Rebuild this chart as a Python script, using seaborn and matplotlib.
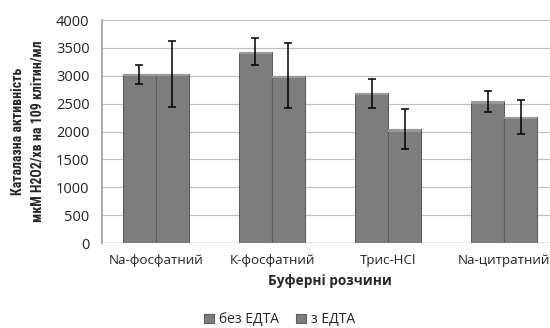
import matplotlib
matplotlib.use("Agg")
import matplotlib.pyplot as plt
import seaborn as sns
import pandas as pd

categories = ["Na-фосфатний", "К-фосфатний", "Трис-HCl", "Na-цитратний"]
series = ["без ЕДТА", "з ЕДТА"]
no_edta = [3030, 3430, 2690, 2540]
no_edta_err = [170, 240, 260, 195]
with_edta = [3030, 3000, 2040, 2260]
with_edta_err = [590, 580, 360, 310]

rows = []
for c, v, e in zip(categories, no_edta, no_edta_err):
    rows.append({"cat": c, "ser": series[0], "val": v, "err": e})
for c, v, e in zip(categories, with_edta, with_edta_err):
    rows.append({"cat": c, "ser": series[1], "val": v, "err": e})
df = pd.DataFrame(rows)

sns.set_theme(style="white")
plt.rcParams["font.family"] = ["Open Sans", "DejaVu Sans"]

fig = plt.figure(figsize=(5.5, 3.28), dpi=100)
ax = fig.add_axes([0.1855, 0.259, 0.829, 0.680])

sns.barplot(data=df, x="cat", y="val", hue="ser", order=categories, hue_order=series,
            palette=["#7d7d7d", "#7d7d7d"], width=0.57, errorbar=None,
            edgecolor="#5e5e5e", linewidth=0.8, ax=ax, legend=True)

# error bars from the bar patches
for container, ser in zip(ax.containers, series):
    sub = df[df["ser"] == ser].set_index("cat").loc[categories]
    xs = [p.get_x() + p.get_width() / 2 for p in container.patches]
    ax.errorbar(xs, sub["val"].values, yerr=sub["err"].values, fmt="none",
                ecolor="black", elinewidth=1.1, capsize=3, capthick=1.1, zorder=5)
    for p in container.patches:
        # light top highlight for bevel look
        ax.add_patch(plt.Rectangle((p.get_x(), p.get_height() - 40), p.get_width(), 40,
                                   facecolor="#9a9a9a", edgecolor="none", zorder=p.get_zorder() + 0.1))

ax.set_ylim(0, 4000)
ax.set_yticks(range(0, 4001, 500))
ax.yaxis.grid(True, color="#c0c0c0", linewidth=0.9)
ax.set_axisbelow(True)
for s in ["top", "right", "bottom"]:
    ax.spines[s].set_visible(False)
ax.spines["left"].set_color("#a0a0a0")
ax.axhline(0, color="#a0a0a0", linewidth=0.9, zorder=1)
ax.tick_params(axis="y", length=0, labelsize=10.5, colors="#222222", pad=9)
ax.tick_params(axis="x", length=0, labelsize=9.6, colors="#222222", pad=8)

ax.set_xlabel("Буферні розчини", fontsize=9.8, fontweight="bold", labelpad=5)
ax.set_ylabel("Каталазна активність\nмкМ Н2О2/хв на 109 клітин/мл", fontsize=10,
              fontweight="bold", family=["Liberation Sans Narrow", "Roboto Condensed", "Liberation Sans", "DejaVu Sans"],
              labelpad=8, linespacing=1.5)

leg = ax.legend(loc="upper center", bbox_to_anchor=(0.39, -0.255), ncol=2, frameon=False,
                fontsize=10, handlelength=0.7, handleheight=0.7, columnspacing=1.2, handletextpad=0.4)

fig.savefig("out.png", dpi=100)
